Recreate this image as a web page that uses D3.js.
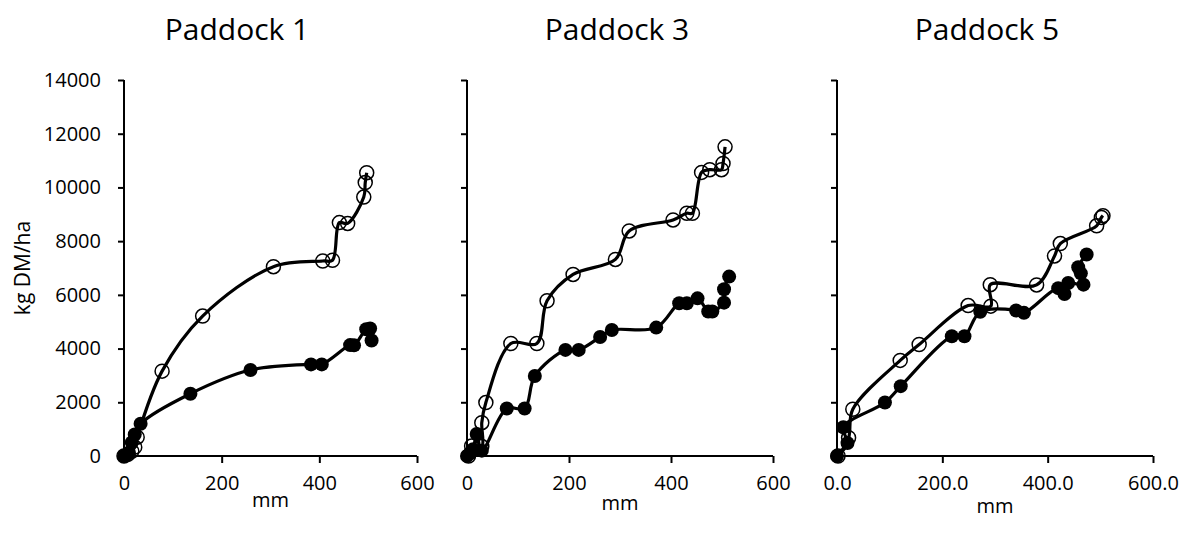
<!DOCTYPE html>
<html>
<head>
<meta charset="utf-8">
<script src="https://cdn.jsdelivr.net/npm/d3@7"></script>
<style>
  body { margin: 0; background: #fff; }
  svg { display: block; font-family: "Open Sans", "Liberation Sans", sans-serif; }
</style>
</head>
<body>
<svg id="chart" width="1191" height="539"></svg>
<script>
// panel titles and axis ticks
const titles = ["Paddock 1", "Paddock 3", "Paddock 5"];
const yTicks = [0, 2000, 4000, 6000, 8000, 10000, 12000, 14000];
const xTicks = [0, 200, 400, 600];

// Paddock 1 (mm, kg DM/ha)
const p1OpenX = [0, 8, 16, 22, 27, 78, 161, 306, 407, 427, 441, 458, 491, 494, 497];
const p1OpenY = [0, 60, 180, 330, 700, 3160, 5210, 7050, 7260, 7290, 8690, 8660, 9640, 10180, 10550];
const p1FillX = [0, 5, 10, 16, 22, 34, 136, 259, 383, 405, 463, 471, 496, 504, 507];
const p1FillY = [0, 40, 120, 500, 800, 1200, 2320, 3200, 3410, 3410, 4130, 4120, 4720, 4750, 4300];

// Paddock 3
const p3OpenX = [3, 9, 29, 29, 37, 86, 137, 157, 208, 291, 318, 404, 431, 442, 460, 476, 499, 502, 506];
const p3OpenY = [0, 370, 350, 1240, 1990, 4190, 4190, 5780, 6760, 7320, 8380, 8790, 9040, 9040, 10560, 10660, 10660, 10890, 11510];
const p3FillX = [0, 6, 12, 19, 29, 78, 113, 133, 193, 219, 261, 284, 371, 416, 431, 452, 473, 481, 504, 504, 514];
const p3FillY = [0, 100, 250, 820, 200, 1770, 1770, 2980, 3950, 3950, 4430, 4690, 4780, 5690, 5690, 5870, 5380, 5380, 5710, 6210, 6680];

// Paddock 5
const p5OpenX = [2, 22, 30, 120, 156, 249, 292, 291, 379, 413, 424, 493, 502, 505];
const p5OpenY = [0, 680, 1740, 3560, 4150, 5600, 5580, 6380, 6370, 7450, 7910, 8570, 8880, 8950];
const p5FillX = [0, 20, 12, 91, 121, 218, 242, 272, 340, 355, 420, 432, 439, 468, 463, 458, 474];
const p5FillY = [0, 480, 1070, 1990, 2600, 4460, 4460, 5370, 5420, 5330, 6250, 6030, 6440, 6380, 6800, 7030, 7500];

const panels = [
  { left: 124, right: 417, open: [p1OpenX, p1OpenY], fill: [p1FillX, p1FillY], yLabels: true, fmt: d3.format("d"), center: 237, mmY: 507 },
  { left: 467, right: 773, open: [p3OpenX, p3OpenY], fill: [p3FillX, p3FillY], yLabels: false, fmt: d3.format("d"), center: 617, mmY: 510 },
  { left: 837, right: 1153, open: [p5OpenX, p5OpenY], fill: [p5FillX, p5FillY], yLabels: false, fmt: d3.format(".1f"), center: 987, mmY: 513 }
];

const svg = d3.select("#chart");
const plotTop = 80, plotBottom = 456;

const y = d3.scaleLinear().domain([0, 14000]).range([plotBottom, plotTop]);

panels.forEach((p, i) => {
  const x = d3.scaleLinear().domain([0, 600]).range([p.left, p.right]);
  const g = svg.append("g");

  // title
  g.append("text")
    .attr("x", p.center).attr("y", 40)
    .attr("text-anchor", "middle")
    .style("font-size", "30px")
    .text(titles[i]);

  // y axis
  const yAxis = d3.axisLeft(y).tickValues(yTicks).tickSize(6).tickPadding(17)
    .tickFormat(p.yLabels ? d3.format("d") : "");
  const ya = g.append("g").attr("transform", `translate(${p.left},0)`).call(yAxis);
  ya.select(".domain").attr("stroke-width", 2).attr("d", `M-0,${plotBottom}V${plotTop}`);

  // x axis
  const xAxis = d3.axisBottom(x).tickValues(xTicks).tickSize(7).tickPadding(13).tickFormat(p.fmt);
  const xa = g.append("g").attr("transform", `translate(0,${plotBottom})`).call(xAxis);
  xa.select(".domain").attr("stroke-width", 2).attr("d", `M${p.left},0H${p.right}`);

  [ya, xa].forEach(a => {
    a.selectAll(".tick line").attr("stroke-width", 2);
    a.selectAll("text").style("font-size", "20px").attr("fill", "#000")
      .style("font-family", "'Open Sans', sans-serif");
  });

  // x title
  g.append("text")
    .attr("x", (p.left + p.right) / 2).attr("y", p.mmY)
    .attr("text-anchor", "middle")
    .style("font-size", "20px")
    .text("mm");

  const line = d3.line()
    .x(d => x(d[0])).y(d => y(d[1]))
    .curve(d3.curveCatmullRom.alpha(0.5));

  const openPts = p.open[0].map((v, k) => [v, p.open[1][k]]);
  const fillPts = p.fill[0].map((v, k) => [v, p.fill[1][k]]);

  [openPts, fillPts].forEach(pts => {
    g.append("path").datum(pts)
      .attr("d", line)
      .attr("fill", "none")
      .attr("stroke", "#000")
      .attr("stroke-width", 3.2);
  });

  g.append("g").selectAll("circle").data(fillPts).join("circle")
    .attr("cx", d => x(d[0])).attr("cy", d => y(d[1]))
    .attr("r", 7).attr("fill", "#000");

  g.append("g").selectAll("circle").data(openPts).join("circle")
    .attr("cx", d => x(d[0])).attr("cy", d => y(d[1]))
    .attr("r", 7).attr("fill", "none")
    .attr("stroke", "#000").attr("stroke-width", 1.5);
});

// shared y title
svg.append("text")
  .attr("transform", "translate(30,268) rotate(-90)")
  .attr("text-anchor", "middle")
  .style("font-size", "21px")
  .text("kg DM/ha");
</script>
</body>
</html>
